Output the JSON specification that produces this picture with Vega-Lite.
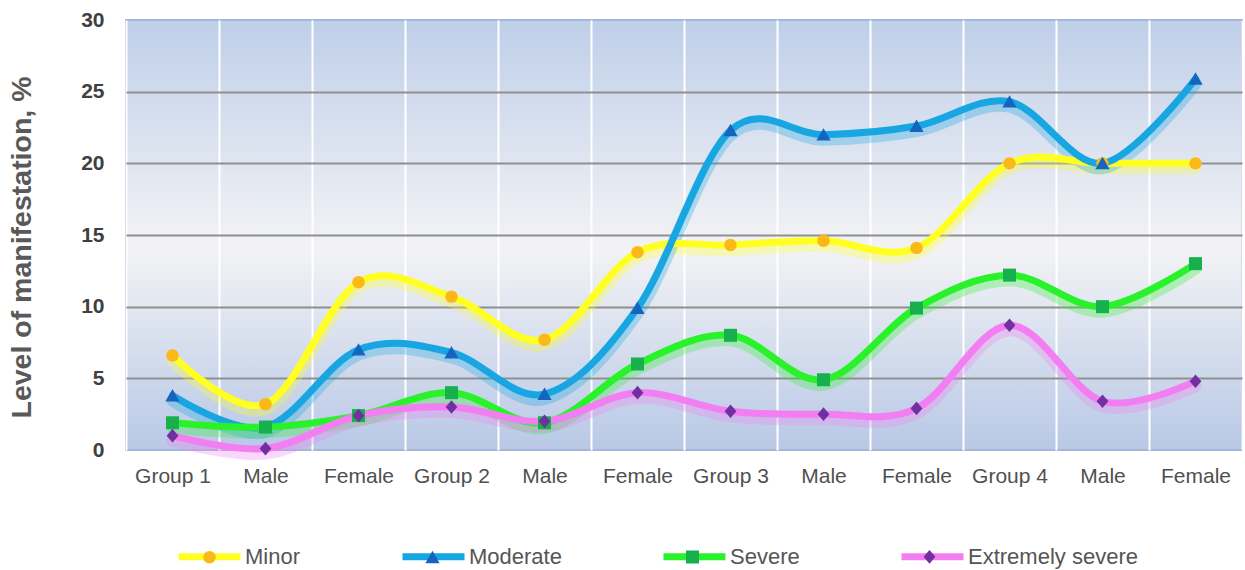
{
  "$schema": "https://vega.github.io/schema/vega-lite/v6.json",
  "autosize": "none",
  "padding": {"left": 126, "top": 20, "right": 3, "bottom": 120},
  "width": 1116,
  "height": 430,
  "config": {
    "font": "Liberation Sans",
    "view": {
      "fill": {"gradient": "linear", "x1": 0, "y1": 0, "x2": 0, "y2": 1,
        "stops": [{"offset": 0, "color": "#bfcfe9"}, {"offset": 0.53, "color": "#f3f3f5"}, {"offset": 1, "color": "#b8c8e6"}]},
      "stroke": "#a6b6d8",
      "strokeWidth": 2
    }
  },
  "data": {"values": [
    {"category": "Group 1", "severity": "Minor", "value": 6.6},
    {"category": "G1 Male", "severity": "Minor", "value": 3.2},
    {"category": "G1 Female", "severity": "Minor", "value": 11.7},
    {"category": "Group 2", "severity": "Minor", "value": 10.7},
    {"category": "G2 Male", "severity": "Minor", "value": 7.7},
    {"category": "G2 Female", "severity": "Minor", "value": 13.8},
    {"category": "Group 3", "severity": "Minor", "value": 14.3},
    {"category": "G3 Male", "severity": "Minor", "value": 14.6},
    {"category": "G3 Female", "severity": "Minor", "value": 14.1},
    {"category": "Group 4", "severity": "Minor", "value": 20.0},
    {"category": "G4 Male", "severity": "Minor", "value": 20.0},
    {"category": "G4 Female", "severity": "Minor", "value": 20.0},
    {"category": "Group 1", "severity": "Moderate", "value": 3.8},
    {"category": "G1 Male", "severity": "Moderate", "value": 1.6},
    {"category": "G1 Female", "severity": "Moderate", "value": 7.0},
    {"category": "Group 2", "severity": "Moderate", "value": 6.8},
    {"category": "G2 Male", "severity": "Moderate", "value": 3.9},
    {"category": "G2 Female", "severity": "Moderate", "value": 9.9},
    {"category": "Group 3", "severity": "Moderate", "value": 22.3},
    {"category": "G3 Male", "severity": "Moderate", "value": 22.0},
    {"category": "G3 Female", "severity": "Moderate", "value": 22.6},
    {"category": "Group 4", "severity": "Moderate", "value": 24.3},
    {"category": "G4 Male", "severity": "Moderate", "value": 20.0},
    {"category": "G4 Female", "severity": "Moderate", "value": 25.9},
    {"category": "Group 1", "severity": "Severe", "value": 1.9},
    {"category": "G1 Male", "severity": "Severe", "value": 1.6},
    {"category": "G1 Female", "severity": "Severe", "value": 2.4},
    {"category": "Group 2", "severity": "Severe", "value": 4.0},
    {"category": "G2 Male", "severity": "Severe", "value": 1.9},
    {"category": "G2 Female", "severity": "Severe", "value": 6.0},
    {"category": "Group 3", "severity": "Severe", "value": 8.0},
    {"category": "G3 Male", "severity": "Severe", "value": 4.9},
    {"category": "G3 Female", "severity": "Severe", "value": 9.9},
    {"category": "Group 4", "severity": "Severe", "value": 12.2},
    {"category": "G4 Male", "severity": "Severe", "value": 10.0},
    {"category": "G4 Female", "severity": "Severe", "value": 13.0},
    {"category": "Group 1", "severity": "Extremely severe", "value": 1.0},
    {"category": "G1 Male", "severity": "Extremely severe", "value": 0.1},
    {"category": "G1 Female", "severity": "Extremely severe", "value": 2.4},
    {"category": "Group 2", "severity": "Extremely severe", "value": 3.0},
    {"category": "G2 Male", "severity": "Extremely severe", "value": 2.0},
    {"category": "G2 Female", "severity": "Extremely severe", "value": 4.0},
    {"category": "Group 3", "severity": "Extremely severe", "value": 2.7},
    {"category": "G3 Male", "severity": "Extremely severe", "value": 2.5},
    {"category": "G3 Female", "severity": "Extremely severe", "value": 2.9},
    {"category": "Group 4", "severity": "Extremely severe", "value": 8.7},
    {"category": "G4 Male", "severity": "Extremely severe", "value": 3.4},
    {"category": "G4 Female", "severity": "Extremely severe", "value": 4.8}
  ]},
  "encoding": {
    "x": {
      "field": "category", "type": "ordinal", "sort": null,
      "scale": {"type": "band", "paddingInner": 0, "paddingOuter": 0},
      "axis": {
        "title": null, "domain": false, "ticks": false, "grid": true, "tickBand": "extent",
        "gridColor": "#ffffff", "gridWidth": 2, "labelAngle": 0,
        "labelFontSize": 21, "labelColor": "#505050", "labelPadding": 15,
        "labelExpr": "indexof(datum.label,'Female')>=0 ? 'Female' : indexof(datum.label,'Male')>=0 ? 'Male' : datum.label"
      }
    },
    "y": {
      "field": "value", "type": "quantitative",
      "scale": {"domain": [0, 30], "nice": false},
      "axis": {
        "title": "Level of manifestation, %", "titleFontSize": 28.5, "titleFontWeight": "bold", "titleColor": "#595959",
        "titlePadding": 44, "titleY": 227,
        "values": [0, 5, 10, 15, 20, 25, 30], "domain": false, "ticks": false,
        "labelFontSize": 21, "labelFontWeight": "bold", "labelColor": "#404040", "labelPadding": 22,
        "gridColor": {"condition": {"test": "datum.value === 0 || datum.value === 30", "value": "transparent"}, "value": "#8f8f8f"},
        "gridWidth": 2
      }
    }
  },
  "resolve": {"legend": {"color": "independent", "fill": "independent", "shape": "independent", "stroke": "independent"}},
  "layer": [
    {
      "mark": {"type": "line", "interpolate": "cardinal", "strokeWidth": 12, "strokeOpacity": 0.3, "yOffset": 5, "strokeCap": "round"},
      "encoding": {
        "stroke": {"field": "severity", "type": "nominal",
          "scale": {"domain": ["Minor", "Moderate", "Severe", "Extremely severe"], "range": ["#ffff22", "#18a6e2", "#2af22a", "#f27ef2"]},
          "legend": null}
      }
    },
    {
      "mark": {"type": "line", "interpolate": "cardinal", "strokeWidth": 7, "strokeCap": "round"},
      "encoding": {
        "color": {"field": "severity", "type": "nominal",
          "scale": {"domain": ["Minor", "Moderate", "Severe", "Extremely severe"], "range": ["#ffff22", "#18a6e2", "#2af22a", "#f27ef2"]},
          "legend": {"title": null, "orient": "none", "legendX": 49, "legendY": 502, "direction": "horizontal", "columns": 4,
            "columnPadding": 87, "padding": 0, "symbolType": "stroke", "symbolStrokeWidth": 7, "symbolSize": 3844,
            "labelFontSize": 22, "labelColor": "#555555", "labelOffset": 1, "labelLimit": 400}
        }
      }
    },
    {
      "mark": {"type": "point", "filled": true, "size": 3844, "opacity": 1, "strokeWidth": 0},
      "encoding": {
        "fill": {"field": "severity", "type": "nominal",
          "scale": {"domain": ["Minor", "Moderate", "Severe", "Extremely severe"], "range": ["#fbb918", "#1565c0", "#16b14c", "#7030a0"]},
          "legend": {"title": null, "orient": "none", "legendX": 49, "legendY": 502, "direction": "horizontal", "columns": 4,
            "columnPadding": 97, "padding": 0, "symbolSize": 3844, "symbolStrokeWidth": 7, "symbolStrokeColor": "transparent",
            "labelFontSize": 22, "labelOpacity": 0, "labelOffset": 1, "labelLimit": 400}
        },
        "shape": {"field": "severity", "type": "nominal",
          "scale": {"domain": ["Minor", "Moderate", "Severe", "Extremely severe"],
            "range": ["M0.2,0 A0.2,0.2 0 1,1 -0.2,0 A0.2,0.2 0 1,1 0.2,0 Z", "M0,-0.21 L0.23,0.19 L-0.23,0.19 Z", "M-0.21,-0.21 L0.21,-0.21 L0.21,0.21 L-0.21,0.21 Z", "M0,-0.22 L0.19,0 L0,0.22 L-0.19,0 Z"]},
          "legend": {"title": null, "orient": "none", "legendX": 49, "legendY": 502, "direction": "horizontal", "columns": 4,
            "columnPadding": 97, "padding": 0, "symbolSize": 3844, "symbolStrokeWidth": 7, "symbolStrokeColor": "transparent",
            "labelFontSize": 22, "labelOpacity": 0, "labelOffset": 1, "labelLimit": 400}
        }
      }
    }
  ]
}
